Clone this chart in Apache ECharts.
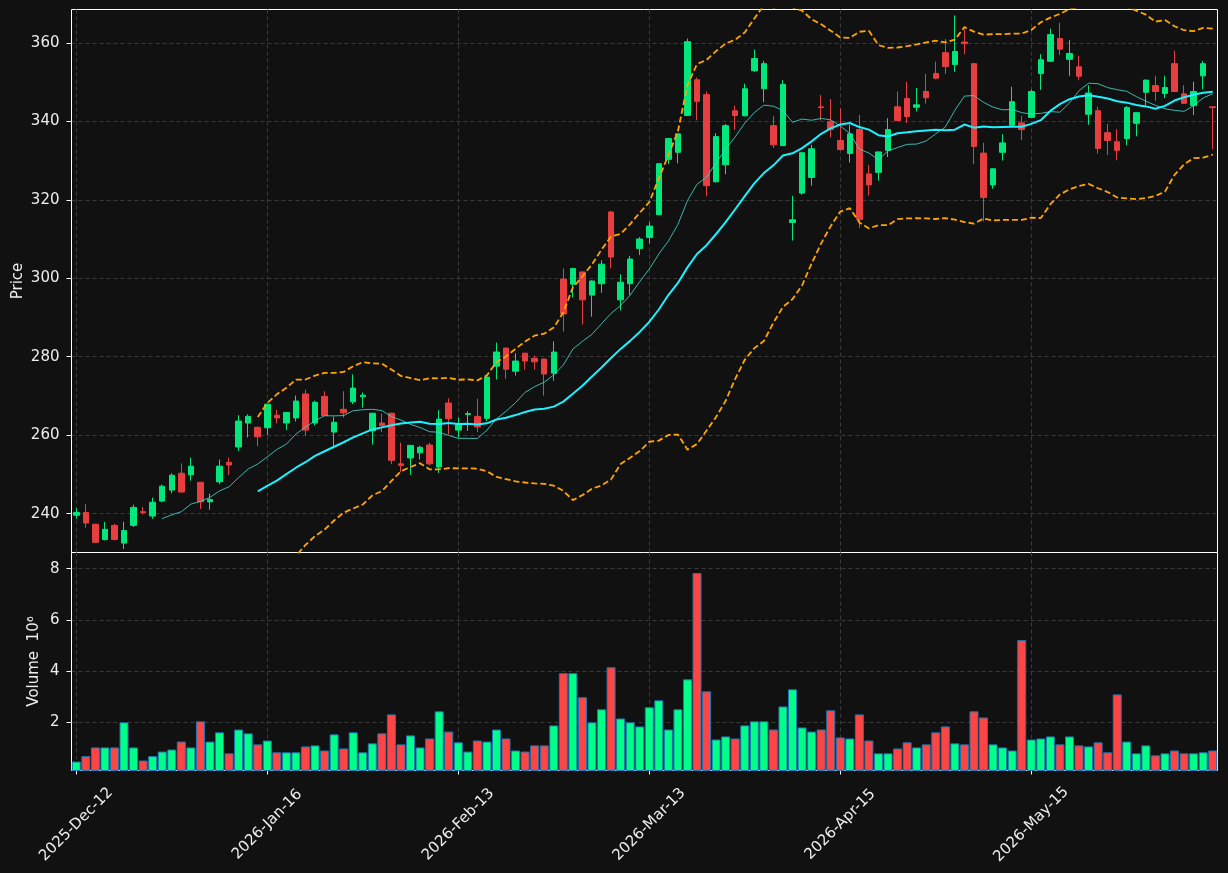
<!DOCTYPE html>
<html>
<head>
<meta charset="utf-8">
<script src="https://cdn.jsdelivr.net/npm/echarts@6/dist/echarts.min.js"></script>
<style>
  html, body { margin: 0; padding: 0; background: #111111; }
  #chart { width: 1228px; height: 873px; }
</style>
</head>
<body>
<div id="chart"></div>
<script>
// one label every 20 trading days
var tickLabels = ['2025-Dec-12', '2026-Jan-16', '2026-Feb-13', '2026-Mar-13', '2026-Apr-15', '2026-May-15'];
var tickStep = 20;

var opens = [
    239.6, 240.3, 237.3, 233.4, 237.0, 232.5, 237.0, 240.5, 239.4, 243.2,
    246.0, 250.3, 249.9, 248.0, 243.0, 248.1, 253.1, 257.0, 263.1, 262.0,
    261.9, 265.1, 263.1, 264.4, 270.5, 263.1, 269.9, 260.8, 266.6, 268.5,
    269.8, 261.1, 263.1, 265.6, 252.7, 254.2, 255.5, 257.5, 251.9, 268.2,
    261.3, 265.3, 264.8, 264.3, 277.6, 282.2, 276.3, 280.9, 279.6, 279.4,
    275.8, 299.8, 298.5, 301.6, 295.7, 298.6, 316.9, 294.5, 298.6, 307.6,
    310.4, 316.2, 330.3, 332.1, 341.5, 350.6, 346.8, 324.6, 328.9, 342.7,
    341.4, 352.9, 348.3, 338.9, 333.8, 314.2, 321.7, 325.7, 343.7, 339.9,
    335.1, 331.8, 337.9, 326.6, 327.0, 332.6, 343.7, 345.8, 343.6, 347.6,
    352.2, 357.5, 354.5, 360.2, 354.7, 331.9, 323.8, 332.1, 339.0, 339.6,
    341.0, 352.2, 355.3, 361.1, 355.8, 353.9, 341.8, 342.7, 337.1, 334.8,
    335.6, 339.5, 347.4, 349.1, 347.1, 354.7, 347.0, 344.0, 351.6, 343.7
];
var closes = [
    240.3, 237.6, 232.7, 236.0, 233.4, 235.7, 241.6, 240.3, 242.9, 247.0,
    249.8, 245.5, 252.1, 243.0, 243.6, 252.1, 252.4, 263.6, 264.8, 259.6,
    267.9, 264.4, 265.8, 268.7, 261.3, 268.4, 265.0, 263.3, 265.7, 272.0,
    270.2, 265.6, 262.5, 253.6, 252.3, 257.4, 256.9, 252.7, 264.1, 264.2,
    262.7, 265.5, 262.1, 274.8, 281.2, 276.8, 278.9, 278.9, 278.7, 275.6,
    281.2, 290.9, 302.5, 294.5, 299.3, 303.6, 305.4, 299.0, 304.9, 310.0,
    313.3, 329.2, 335.6, 336.8, 360.3, 345.1, 323.6, 336.1, 338.9, 341.5,
    348.3, 356.0, 354.7, 334.0, 349.4, 314.9, 332.0, 333.0, 343.5, 337.9,
    332.8, 336.8, 315.0, 323.8, 332.2, 337.9, 340.2, 341.2, 344.2, 346.0,
    351.0, 354.0, 357.8, 359.8, 333.6, 320.6, 327.9, 334.5, 345.0, 337.9,
    347.6, 355.7, 362.1, 358.4, 357.3, 351.5, 347.2, 333.1, 335.1, 332.6,
    343.5, 342.2, 350.5, 347.6, 348.6, 347.6, 344.6, 347.6, 354.7, 343.5
];
var highs = [
    241.4, 242.4, 237.4, 237.9, 237.4, 237.9, 242.3, 241.7, 244.1, 247.4,
    250.3, 252.8, 254.3, 248.1, 245.1, 253.8, 254.3, 265.1, 265.3, 262.2,
    268.0, 266.5, 265.9, 270.1, 271.6, 268.8, 271.2, 264.7, 271.2, 275.5,
    270.9, 265.7, 265.5, 265.7, 258.1, 257.5, 257.3, 258.1, 266.4, 269.4,
    264.5, 266.1, 269.3, 275.0, 283.6, 282.3, 280.9, 281.0, 280.3, 279.5,
    283.9, 302.5, 302.6, 301.7, 299.5, 304.6, 317.2, 301.0, 305.7, 310.5,
    314.3, 329.3, 335.7, 336.9, 361.1, 351.2, 347.6, 337.0, 339.3, 344.0,
    349.6, 358.3, 355.4, 341.3, 350.5, 321.0, 332.1, 334.0, 346.7, 345.7,
    343.3, 339.1, 341.6, 328.9, 332.3, 340.8, 347.6, 350.1, 348.5, 352.1,
    355.2, 361.0, 367.0, 363.4, 354.8, 334.5, 328.0, 336.7, 348.8, 341.4,
    348.1, 357.1, 363.6, 365.1, 360.7, 356.7, 349.2, 343.7, 339.3, 338.0,
    343.9, 342.3, 350.6, 351.6, 351.6, 358.0, 349.2, 350.1, 355.4, 343.7
];
var lows = [
    238.7, 236.4, 232.5, 233.2, 233.2, 231.0, 236.6, 239.8, 238.7, 242.9,
    245.2, 245.4, 248.4, 241.2, 241.0, 247.5, 249.9, 256.0, 259.4, 257.2,
    260.0, 263.0, 261.3, 263.5, 259.9, 262.5, 264.9, 256.6, 264.5, 267.9,
    267.0, 257.6, 260.8, 252.6, 250.6, 249.9, 253.8, 252.3, 250.4, 260.2,
    259.5, 261.1, 260.8, 263.6, 274.2, 274.4, 275.2, 276.7, 276.7, 270.1,
    273.9, 286.4, 295.1, 288.2, 290.2, 296.3, 302.5, 291.8, 295.7, 305.9,
    308.9, 316.1, 329.1, 329.3, 341.4, 340.3, 320.9, 324.4, 326.5, 337.8,
    341.3, 352.6, 344.9, 333.2, 333.7, 309.6, 321.3, 323.6, 340.2, 335.9,
    332.6, 329.5, 312.8, 321.1, 324.9, 330.9, 340.1, 339.6, 342.5, 344.5,
    350.7, 352.1, 352.6, 357.1, 329.1, 314.5, 322.8, 330.0, 338.9, 335.2,
    340.9, 348.0, 355.2, 356.9, 351.6, 350.5, 339.1, 331.8, 331.4, 330.1,
    333.9, 336.2, 344.0, 345.2, 345.9, 347.5, 344.4, 341.6, 348.2, 332.9
];
// volume in millions
var volumes = [
    0.47, 0.68, 1.02, 1.02, 1.02, 2.00, 1.02, 0.51, 0.68, 0.86,
    0.94, 1.25, 1.02, 2.04, 1.25, 1.61, 0.79, 1.72, 1.57, 1.14,
    1.29, 0.83, 0.83, 0.83, 1.06, 1.10, 0.90, 1.53, 0.98, 1.61,
    0.83, 1.18, 1.57, 2.31, 1.14, 1.49, 1.02, 1.37, 2.43, 1.64,
    1.22, 0.86, 1.29, 1.25, 1.72, 1.37, 0.90, 0.86, 1.10, 1.10,
    1.88, 3.92, 3.92, 2.98, 2.00, 2.51, 4.15, 2.15, 2.00, 1.84,
    2.59, 2.86, 1.72, 2.51, 3.68, 7.83, 3.21, 1.33, 1.45, 1.37,
    1.88, 2.04, 2.04, 1.72, 2.62, 3.29, 1.80, 1.64, 1.72, 2.47,
    1.41, 1.37, 2.31, 1.29, 0.79, 0.79, 0.98, 1.22, 1.02, 1.14,
    1.61, 1.84, 1.18, 1.14, 2.43, 2.19, 1.14, 1.02, 0.90, 5.21,
    1.33, 1.37, 1.45, 1.14, 1.45, 1.10, 1.06, 1.22, 0.83, 3.09,
    1.25, 0.79, 1.10, 0.71, 0.79, 0.90, 0.79, 0.79, 0.83, 0.90
];
var priceTicks = [240, 260, 280, 300, 320, 340, 360];
var volumeTicks = [2, 4, 6, 8];

var UP = '#02e77c', DOWN = '#e73f3f';
var VUP = '#00ff88', VDOWN = '#ff4444';
var FONT = 'DejaVu Sans';
var FS = 15;
var TXT = '#eeeeee';
var GRIDC = '#3a3a3a';

function sma(arr, n) {
    return arr.map(function(v, i) {
        if (i < n - 1) return null;
        var s = 0;
        for (var k = i - n + 1; k <= i; k++) s += arr[k];
        return +(s / n).toFixed(3);
    });
}
// bollinger band: sma +/- mult * sample std
function band(arr, n, mult, sign) {
    var mid = sma(arr, n);
    return arr.map(function(v, i) {
        if (i < n - 1) return null;
        var s = 0;
        for (var k = i - n + 1; k <= i; k++) s += Math.pow(arr[k] - mid[i], 2);
        var sd = Math.sqrt(s / (n - 1));
        return +(mid[i] + sign * mult * sd).toFixed(3);
    });
}

var categories = closes.map(function(v, i) { return String(i); });
var candles = opens.map(function(o, i) {
    return [o, closes[i], lows[i], highs[i]];
});
var volBars = volumes.map(function(v, i) {
    var up = closes[i] >= opens[i];
    return {value: v, itemStyle: {color: up ? VUP : VDOWN}};
});

var chart = echarts.init(document.getElementById('chart'), null, {renderer: 'canvas'});

var gridLine = {color: GRIDC, type: [4, 3], width: 1};

chart.setOption({
    backgroundColor: '#111111',
    animation: false,
    textStyle: {fontFamily: FONT},
    grid: [
        {left: 71.5, top: 9.5, width: 1146, height: 543, show: true, containLabel: false,
            outerBoundsMode: 'none',
            backgroundColor: '#111111', borderColor: '#ffffff', borderWidth: 1},
        {left: 71.5, top: 552.5, width: 1146, height: 218, show: true, containLabel: false,
            outerBoundsMode: 'none',
            backgroundColor: '#111111', borderColor: '#ffffff', borderWidth: 1}
    ],
    xAxis: [
        {
            type: 'category', gridIndex: 0, data: categories, boundaryGap: true,
            axisLine: {show: false},
            axisTick: {show: false, interval: tickStep - 1, alignWithLabel: true},
            axisLabel: {show: false, interval: tickStep - 1},
            splitLine: {show: true, interval: tickStep - 1, alignWithLabel: true, lineStyle: gridLine}
        },
        {
            type: 'category', gridIndex: 1, data: categories, boundaryGap: true,
            axisLine: {show: false},
            axisTick: {show: true, interval: tickStep - 1, alignWithLabel: true, length: 4,
                lineStyle: {color: '#ffffff', width: 1}},
            axisLabel: {
                show: true, interval: tickStep - 1, rotate: 45, margin: 54,
                align: 'center', verticalAlign: 'middle',
                color: TXT, fontSize: FS, fontFamily: FONT,
                formatter: function(val, idx) {
                    return idx % tickStep === 0 ? (tickLabels[idx / tickStep] || '') : '';
                }
            },
            splitLine: {show: true, interval: tickStep - 1, alignWithLabel: true, lineStyle: gridLine}
        }
    ],
    yAxis: [
        {
            type: 'value', gridIndex: 0, min: 230.1, max: 368.5, position: 'left',
            name: 'Price', nameLocation: 'middle', nameGap: 46, nameMoveOverlap: false,
            nameTextStyle: {color: TXT, fontSize: FS, fontFamily: FONT},
            axisLine: {show: false},
            axisTick: {show: true, length: 5, customValues: priceTicks,
                lineStyle: {color: '#ffffff'}},
            axisLabel: {show: true, margin: 12, color: TXT, fontSize: FS,
                fontFamily: FONT, customValues: priceTicks},
            splitLine: {show: true, lineStyle: gridLine}
        },
        {
            type: 'value', gridIndex: 1, min: 0.12, max: 8.63, position: 'left',
            name: 'Volume  10\u2076', nameLocation: 'middle', nameGap: 30, nameMoveOverlap: false,
            nameTextStyle: {color: TXT, fontSize: FS, fontFamily: FONT},
            axisLine: {show: false},
            axisTick: {show: true, length: 5, customValues: volumeTicks,
                lineStyle: {color: '#ffffff'}},
            axisLabel: {show: true, margin: 12, color: TXT, fontSize: FS,
                fontFamily: FONT, customValues: volumeTicks},
            splitLine: {show: true, lineStyle: gridLine}
        }
    ],
    series: [
        {
            name: 'Candles', type: 'candlestick', xAxisIndex: 0, yAxisIndex: 0,
            data: candles, barWidth: 6, z: 2,
            itemStyle: {color: UP, color0: DOWN, borderColor: UP, borderColor0: DOWN, borderWidth: 1}
        },
        {
            name: 'MA10', type: 'line', xAxisIndex: 0, yAxisIndex: 0, z: 3,
            data: sma(closes, 10), symbol: 'none',
            lineStyle: {color: '#3fd3c9', width: 1, opacity: 0.85}
        },
        {
            name: 'MA20', type: 'line', xAxisIndex: 0, yAxisIndex: 0, z: 4,
            data: sma(closes, 20), symbol: 'none',
            lineStyle: {color: '#1ef0ff', width: 2}
        },
        {
            name: 'BB upper', type: 'line', xAxisIndex: 0, yAxisIndex: 0, z: 4,
            data: band(closes, 20, 2, 1), symbol: 'none', clip: true,
            lineStyle: {color: '#ffa500', width: 1.8, type: [6, 3]}
        },
        {
            name: 'BB lower', type: 'line', xAxisIndex: 0, yAxisIndex: 0, z: 4,
            data: band(closes, 20, 2, -1), symbol: 'none', clip: true,
            lineStyle: {color: '#ffa500', width: 1.8, type: [6, 3]}
        },
        {
            name: 'Volume', type: 'bar', xAxisIndex: 1, yAxisIndex: 1,
            data: volBars, barWidth: 9,
            itemStyle: {borderColor: '#1f77b4', borderWidth: 1}
        }
    ]
});
</script>
</body>
</html>
